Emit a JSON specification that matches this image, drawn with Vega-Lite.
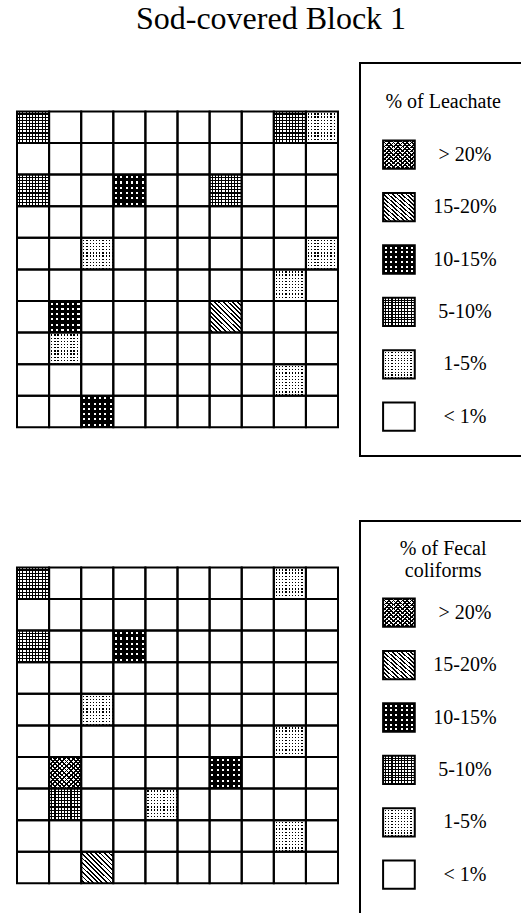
{
"$schema": "https://vega.github.io/schema/vega-lite/v6.json",
"background": "white",
"padding": {"left": 16, "top": 3, "right": 0, "bottom": 0},
"title": {"text": "Sod-covered Block 1", "font": "Liberation Serif", "fontSize": 32, "fontWeight": "normal", "color": "black", "anchor": "middle", "offset": 26},
"config": {
  "view": {"stroke": null},
  "title": {"font": "Liberation Serif", "fontWeight": "normal", "color": "black"}
},
"datasets": {
  "cells": [
    {"panel":"Leachate","r":0,"c":0,"cat":"5-10%"},{"panel":"Leachate","r":0,"c":1,"cat":"<1%"},{"panel":"Leachate","r":0,"c":2,"cat":"<1%"},{"panel":"Leachate","r":0,"c":3,"cat":"<1%"},{"panel":"Leachate","r":0,"c":4,"cat":"<1%"},{"panel":"Leachate","r":0,"c":5,"cat":"<1%"},{"panel":"Leachate","r":0,"c":6,"cat":"<1%"},{"panel":"Leachate","r":0,"c":7,"cat":"<1%"},{"panel":"Leachate","r":0,"c":8,"cat":"5-10%"},{"panel":"Leachate","r":0,"c":9,"cat":"1-5%"},
    {"panel":"Leachate","r":1,"c":0,"cat":"<1%"},{"panel":"Leachate","r":1,"c":1,"cat":"<1%"},{"panel":"Leachate","r":1,"c":2,"cat":"<1%"},{"panel":"Leachate","r":1,"c":3,"cat":"<1%"},{"panel":"Leachate","r":1,"c":4,"cat":"<1%"},{"panel":"Leachate","r":1,"c":5,"cat":"<1%"},{"panel":"Leachate","r":1,"c":6,"cat":"<1%"},{"panel":"Leachate","r":1,"c":7,"cat":"<1%"},{"panel":"Leachate","r":1,"c":8,"cat":"<1%"},{"panel":"Leachate","r":1,"c":9,"cat":"<1%"},
    {"panel":"Leachate","r":2,"c":0,"cat":"5-10%"},{"panel":"Leachate","r":2,"c":1,"cat":"<1%"},{"panel":"Leachate","r":2,"c":2,"cat":"<1%"},{"panel":"Leachate","r":2,"c":3,"cat":"10-15%"},{"panel":"Leachate","r":2,"c":4,"cat":"<1%"},{"panel":"Leachate","r":2,"c":5,"cat":"<1%"},{"panel":"Leachate","r":2,"c":6,"cat":"5-10%"},{"panel":"Leachate","r":2,"c":7,"cat":"<1%"},{"panel":"Leachate","r":2,"c":8,"cat":"<1%"},{"panel":"Leachate","r":2,"c":9,"cat":"<1%"},
    {"panel":"Leachate","r":3,"c":0,"cat":"<1%"},{"panel":"Leachate","r":3,"c":1,"cat":"<1%"},{"panel":"Leachate","r":3,"c":2,"cat":"<1%"},{"panel":"Leachate","r":3,"c":3,"cat":"<1%"},{"panel":"Leachate","r":3,"c":4,"cat":"<1%"},{"panel":"Leachate","r":3,"c":5,"cat":"<1%"},{"panel":"Leachate","r":3,"c":6,"cat":"<1%"},{"panel":"Leachate","r":3,"c":7,"cat":"<1%"},{"panel":"Leachate","r":3,"c":8,"cat":"<1%"},{"panel":"Leachate","r":3,"c":9,"cat":"<1%"},
    {"panel":"Leachate","r":4,"c":0,"cat":"<1%"},{"panel":"Leachate","r":4,"c":1,"cat":"<1%"},{"panel":"Leachate","r":4,"c":2,"cat":"1-5%"},{"panel":"Leachate","r":4,"c":3,"cat":"<1%"},{"panel":"Leachate","r":4,"c":4,"cat":"<1%"},{"panel":"Leachate","r":4,"c":5,"cat":"<1%"},{"panel":"Leachate","r":4,"c":6,"cat":"<1%"},{"panel":"Leachate","r":4,"c":7,"cat":"<1%"},{"panel":"Leachate","r":4,"c":8,"cat":"<1%"},{"panel":"Leachate","r":4,"c":9,"cat":"1-5%"},
    {"panel":"Leachate","r":5,"c":0,"cat":"<1%"},{"panel":"Leachate","r":5,"c":1,"cat":"<1%"},{"panel":"Leachate","r":5,"c":2,"cat":"<1%"},{"panel":"Leachate","r":5,"c":3,"cat":"<1%"},{"panel":"Leachate","r":5,"c":4,"cat":"<1%"},{"panel":"Leachate","r":5,"c":5,"cat":"<1%"},{"panel":"Leachate","r":5,"c":6,"cat":"<1%"},{"panel":"Leachate","r":5,"c":7,"cat":"<1%"},{"panel":"Leachate","r":5,"c":8,"cat":"1-5%"},{"panel":"Leachate","r":5,"c":9,"cat":"<1%"},
    {"panel":"Leachate","r":6,"c":0,"cat":"<1%"},{"panel":"Leachate","r":6,"c":1,"cat":"10-15%"},{"panel":"Leachate","r":6,"c":2,"cat":"<1%"},{"panel":"Leachate","r":6,"c":3,"cat":"<1%"},{"panel":"Leachate","r":6,"c":4,"cat":"<1%"},{"panel":"Leachate","r":6,"c":5,"cat":"<1%"},{"panel":"Leachate","r":6,"c":6,"cat":"15-20%"},{"panel":"Leachate","r":6,"c":7,"cat":"<1%"},{"panel":"Leachate","r":6,"c":8,"cat":"<1%"},{"panel":"Leachate","r":6,"c":9,"cat":"<1%"},
    {"panel":"Leachate","r":7,"c":0,"cat":"<1%"},{"panel":"Leachate","r":7,"c":1,"cat":"1-5%"},{"panel":"Leachate","r":7,"c":2,"cat":"<1%"},{"panel":"Leachate","r":7,"c":3,"cat":"<1%"},{"panel":"Leachate","r":7,"c":4,"cat":"<1%"},{"panel":"Leachate","r":7,"c":5,"cat":"<1%"},{"panel":"Leachate","r":7,"c":6,"cat":"<1%"},{"panel":"Leachate","r":7,"c":7,"cat":"<1%"},{"panel":"Leachate","r":7,"c":8,"cat":"<1%"},{"panel":"Leachate","r":7,"c":9,"cat":"<1%"},
    {"panel":"Leachate","r":8,"c":0,"cat":"<1%"},{"panel":"Leachate","r":8,"c":1,"cat":"<1%"},{"panel":"Leachate","r":8,"c":2,"cat":"<1%"},{"panel":"Leachate","r":8,"c":3,"cat":"<1%"},{"panel":"Leachate","r":8,"c":4,"cat":"<1%"},{"panel":"Leachate","r":8,"c":5,"cat":"<1%"},{"panel":"Leachate","r":8,"c":6,"cat":"<1%"},{"panel":"Leachate","r":8,"c":7,"cat":"<1%"},{"panel":"Leachate","r":8,"c":8,"cat":"1-5%"},{"panel":"Leachate","r":8,"c":9,"cat":"<1%"},
    {"panel":"Leachate","r":9,"c":0,"cat":"<1%"},{"panel":"Leachate","r":9,"c":1,"cat":"<1%"},{"panel":"Leachate","r":9,"c":2,"cat":"10-15%"},{"panel":"Leachate","r":9,"c":3,"cat":"<1%"},{"panel":"Leachate","r":9,"c":4,"cat":"<1%"},{"panel":"Leachate","r":9,"c":5,"cat":"<1%"},{"panel":"Leachate","r":9,"c":6,"cat":"<1%"},{"panel":"Leachate","r":9,"c":7,"cat":"<1%"},{"panel":"Leachate","r":9,"c":8,"cat":"<1%"},{"panel":"Leachate","r":9,"c":9,"cat":"<1%"},
    {"panel":"Fecal","r":0,"c":0,"cat":"5-10%"},{"panel":"Fecal","r":0,"c":1,"cat":"<1%"},{"panel":"Fecal","r":0,"c":2,"cat":"<1%"},{"panel":"Fecal","r":0,"c":3,"cat":"<1%"},{"panel":"Fecal","r":0,"c":4,"cat":"<1%"},{"panel":"Fecal","r":0,"c":5,"cat":"<1%"},{"panel":"Fecal","r":0,"c":6,"cat":"<1%"},{"panel":"Fecal","r":0,"c":7,"cat":"<1%"},{"panel":"Fecal","r":0,"c":8,"cat":"1-5%"},{"panel":"Fecal","r":0,"c":9,"cat":"<1%"},
    {"panel":"Fecal","r":1,"c":0,"cat":"<1%"},{"panel":"Fecal","r":1,"c":1,"cat":"<1%"},{"panel":"Fecal","r":1,"c":2,"cat":"<1%"},{"panel":"Fecal","r":1,"c":3,"cat":"<1%"},{"panel":"Fecal","r":1,"c":4,"cat":"<1%"},{"panel":"Fecal","r":1,"c":5,"cat":"<1%"},{"panel":"Fecal","r":1,"c":6,"cat":"<1%"},{"panel":"Fecal","r":1,"c":7,"cat":"<1%"},{"panel":"Fecal","r":1,"c":8,"cat":"<1%"},{"panel":"Fecal","r":1,"c":9,"cat":"<1%"},
    {"panel":"Fecal","r":2,"c":0,"cat":"5-10%"},{"panel":"Fecal","r":2,"c":1,"cat":"<1%"},{"panel":"Fecal","r":2,"c":2,"cat":"<1%"},{"panel":"Fecal","r":2,"c":3,"cat":"10-15%"},{"panel":"Fecal","r":2,"c":4,"cat":"<1%"},{"panel":"Fecal","r":2,"c":5,"cat":"<1%"},{"panel":"Fecal","r":2,"c":6,"cat":"<1%"},{"panel":"Fecal","r":2,"c":7,"cat":"<1%"},{"panel":"Fecal","r":2,"c":8,"cat":"<1%"},{"panel":"Fecal","r":2,"c":9,"cat":"<1%"},
    {"panel":"Fecal","r":3,"c":0,"cat":"<1%"},{"panel":"Fecal","r":3,"c":1,"cat":"<1%"},{"panel":"Fecal","r":3,"c":2,"cat":"<1%"},{"panel":"Fecal","r":3,"c":3,"cat":"<1%"},{"panel":"Fecal","r":3,"c":4,"cat":"<1%"},{"panel":"Fecal","r":3,"c":5,"cat":"<1%"},{"panel":"Fecal","r":3,"c":6,"cat":"<1%"},{"panel":"Fecal","r":3,"c":7,"cat":"<1%"},{"panel":"Fecal","r":3,"c":8,"cat":"<1%"},{"panel":"Fecal","r":3,"c":9,"cat":"<1%"},
    {"panel":"Fecal","r":4,"c":0,"cat":"<1%"},{"panel":"Fecal","r":4,"c":1,"cat":"<1%"},{"panel":"Fecal","r":4,"c":2,"cat":"1-5%"},{"panel":"Fecal","r":4,"c":3,"cat":"<1%"},{"panel":"Fecal","r":4,"c":4,"cat":"<1%"},{"panel":"Fecal","r":4,"c":5,"cat":"<1%"},{"panel":"Fecal","r":4,"c":6,"cat":"<1%"},{"panel":"Fecal","r":4,"c":7,"cat":"<1%"},{"panel":"Fecal","r":4,"c":8,"cat":"<1%"},{"panel":"Fecal","r":4,"c":9,"cat":"<1%"},
    {"panel":"Fecal","r":5,"c":0,"cat":"<1%"},{"panel":"Fecal","r":5,"c":1,"cat":"<1%"},{"panel":"Fecal","r":5,"c":2,"cat":"<1%"},{"panel":"Fecal","r":5,"c":3,"cat":"<1%"},{"panel":"Fecal","r":5,"c":4,"cat":"<1%"},{"panel":"Fecal","r":5,"c":5,"cat":"<1%"},{"panel":"Fecal","r":5,"c":6,"cat":"<1%"},{"panel":"Fecal","r":5,"c":7,"cat":"<1%"},{"panel":"Fecal","r":5,"c":8,"cat":"1-5%"},{"panel":"Fecal","r":5,"c":9,"cat":"<1%"},
    {"panel":"Fecal","r":6,"c":0,"cat":"<1%"},{"panel":"Fecal","r":6,"c":1,"cat":">20%"},{"panel":"Fecal","r":6,"c":2,"cat":"<1%"},{"panel":"Fecal","r":6,"c":3,"cat":"<1%"},{"panel":"Fecal","r":6,"c":4,"cat":"<1%"},{"panel":"Fecal","r":6,"c":5,"cat":"<1%"},{"panel":"Fecal","r":6,"c":6,"cat":"10-15%"},{"panel":"Fecal","r":6,"c":7,"cat":"<1%"},{"panel":"Fecal","r":6,"c":8,"cat":"<1%"},{"panel":"Fecal","r":6,"c":9,"cat":"<1%"},
    {"panel":"Fecal","r":7,"c":0,"cat":"<1%"},{"panel":"Fecal","r":7,"c":1,"cat":"5-10%"},{"panel":"Fecal","r":7,"c":2,"cat":"<1%"},{"panel":"Fecal","r":7,"c":3,"cat":"<1%"},{"panel":"Fecal","r":7,"c":4,"cat":"1-5%"},{"panel":"Fecal","r":7,"c":5,"cat":"<1%"},{"panel":"Fecal","r":7,"c":6,"cat":"<1%"},{"panel":"Fecal","r":7,"c":7,"cat":"<1%"},{"panel":"Fecal","r":7,"c":8,"cat":"<1%"},{"panel":"Fecal","r":7,"c":9,"cat":"<1%"},
    {"panel":"Fecal","r":8,"c":0,"cat":"<1%"},{"panel":"Fecal","r":8,"c":1,"cat":"<1%"},{"panel":"Fecal","r":8,"c":2,"cat":"<1%"},{"panel":"Fecal","r":8,"c":3,"cat":"<1%"},{"panel":"Fecal","r":8,"c":4,"cat":"<1%"},{"panel":"Fecal","r":8,"c":5,"cat":"<1%"},{"panel":"Fecal","r":8,"c":6,"cat":"<1%"},{"panel":"Fecal","r":8,"c":7,"cat":"<1%"},{"panel":"Fecal","r":8,"c":8,"cat":"1-5%"},{"panel":"Fecal","r":8,"c":9,"cat":"<1%"},
    {"panel":"Fecal","r":9,"c":0,"cat":"<1%"},{"panel":"Fecal","r":9,"c":1,"cat":"<1%"},{"panel":"Fecal","r":9,"c":2,"cat":"15-20%"},{"panel":"Fecal","r":9,"c":3,"cat":"<1%"},{"panel":"Fecal","r":9,"c":4,"cat":"<1%"},{"panel":"Fecal","r":9,"c":5,"cat":"<1%"},{"panel":"Fecal","r":9,"c":6,"cat":"<1%"},{"panel":"Fecal","r":9,"c":7,"cat":"<1%"},{"panel":"Fecal","r":9,"c":8,"cat":"<1%"},{"panel":"Fecal","r":9,"c":9,"cat":"<1%"}
  ],
  "legend": [
    {"panel": "Leachate", "cat": "title", "line": "b", "label": "% of Leachate"},
    {"panel": "Leachate", "cat": ">20%", "label": "> 20%"},
    {"panel": "Leachate", "cat": "15-20%", "label": "15-20%"},
    {"panel": "Leachate", "cat": "10-15%", "label": "10-15%"},
    {"panel": "Leachate", "cat": "5-10%", "label": "5-10%"},
    {"panel": "Leachate", "cat": "1-5%", "label": "1-5%"},
    {"panel": "Leachate", "cat": "<1%", "label": "< 1%"},
    {"panel": "Fecal", "cat": "title", "line": "a", "label": "% of Fecal"},
    {"panel": "Fecal", "cat": "title", "line": "c", "label": "coliforms"},
    {"panel": "Fecal", "cat": ">20%", "label": "> 20%"},
    {"panel": "Fecal", "cat": "15-20%", "label": "15-20%"},
    {"panel": "Fecal", "cat": "10-15%", "label": "10-15%"},
    {"panel": "Fecal", "cat": "5-10%", "label": "5-10%"},
    {"panel": "Fecal", "cat": "1-5%", "label": "1-5%"},
    {"panel": "Fecal", "cat": "<1%", "label": "< 1%"}
  ]
},
"spacing": 19,
"hconcat": [
  {
    "data": {"name": "cells"},
    "facet": {"row": {"field": "panel", "type": "nominal", "sort": ["Leachate", "Fecal"], "header": null}},
    "spacing": {"row": 63},
    "spec": {
      "width": 321, "height": 393,
      "encoding": {
        "x": {"field": "c", "type": "ordinal", "axis": null, "scale": {"type": "band", "domain": [0,1,2,3,4,5,6,7,8,9], "paddingInner": 0, "paddingOuter": 0}},
        "y": {"field": "r", "type": "ordinal", "axis": null, "scale": {"type": "band", "domain": ["t",0,1,2,3,4,5,6,7,8,9], "paddingInner": 0, "paddingOuter": 0.72, "align": 0.37}}
      },
      "layer": [
        {"mark": {"type": "rect", "fill": "#fff"}},
        {"transform": [{"filter": "datum.cat === '>20%'"}],
         "mark": {"type": "rect", "fill": {"gradient": "linear", "x1": 0, "y1": 0, "x2": 1, "y2": 1, "stops": [{"offset":0,"color":"#0000"},{"offset":0.0429,"color":"#0000"},{"offset":0.0429,"color":"#000"},{"offset":0.0714,"color":"#000"},{"offset":0.0714,"color":"#0000"},{"offset":0.1143,"color":"#0000"},{"offset":0.1143,"color":"#000"},{"offset":0.1429,"color":"#000"},{"offset":0.1429,"color":"#0000"},{"offset":0.1857,"color":"#0000"},{"offset":0.1857,"color":"#000"},{"offset":0.2143,"color":"#000"},{"offset":0.2143,"color":"#0000"},{"offset":0.2571,"color":"#0000"},{"offset":0.2571,"color":"#000"},{"offset":0.2857,"color":"#000"},{"offset":0.2857,"color":"#0000"},{"offset":0.3286,"color":"#0000"},{"offset":0.3286,"color":"#000"},{"offset":0.3571,"color":"#000"},{"offset":0.3571,"color":"#0000"},{"offset":0.4,"color":"#0000"},{"offset":0.4,"color":"#000"},{"offset":0.4286,"color":"#000"},{"offset":0.4286,"color":"#0000"},{"offset":0.4714,"color":"#0000"},{"offset":0.4714,"color":"#000"},{"offset":0.5,"color":"#000"},{"offset":0.5,"color":"#0000"},{"offset":0.5429,"color":"#0000"},{"offset":0.5429,"color":"#000"},{"offset":0.5714,"color":"#000"},{"offset":0.5714,"color":"#0000"},{"offset":0.6143,"color":"#0000"},{"offset":0.6143,"color":"#000"},{"offset":0.6429,"color":"#000"},{"offset":0.6429,"color":"#0000"},{"offset":0.6857,"color":"#0000"},{"offset":0.6857,"color":"#000"},{"offset":0.7143,"color":"#000"},{"offset":0.7143,"color":"#0000"},{"offset":0.7571,"color":"#0000"},{"offset":0.7571,"color":"#000"},{"offset":0.7857,"color":"#000"},{"offset":0.7857,"color":"#0000"},{"offset":0.8286,"color":"#0000"},{"offset":0.8286,"color":"#000"},{"offset":0.8571,"color":"#000"},{"offset":0.8571,"color":"#0000"},{"offset":0.9,"color":"#0000"},{"offset":0.9,"color":"#000"},{"offset":0.9286,"color":"#000"},{"offset":0.9286,"color":"#0000"},{"offset":0.9714,"color":"#0000"},{"offset":0.9714,"color":"#000"},{"offset":1,"color":"#000"}]}}},
        {"transform": [{"filter": "datum.cat === '>20%' || datum.cat === '15-20%'"}],
         "mark": {"type": "rect", "fill": {"gradient": "linear", "x1": 0, "y1": 1, "x2": 1, "y2": 0, "stops": [{"offset":0,"color":"#0000"},{"offset":0.0429,"color":"#0000"},{"offset":0.0429,"color":"#000"},{"offset":0.0714,"color":"#000"},{"offset":0.0714,"color":"#0000"},{"offset":0.1143,"color":"#0000"},{"offset":0.1143,"color":"#000"},{"offset":0.1429,"color":"#000"},{"offset":0.1429,"color":"#0000"},{"offset":0.1857,"color":"#0000"},{"offset":0.1857,"color":"#000"},{"offset":0.2143,"color":"#000"},{"offset":0.2143,"color":"#0000"},{"offset":0.2571,"color":"#0000"},{"offset":0.2571,"color":"#000"},{"offset":0.2857,"color":"#000"},{"offset":0.2857,"color":"#0000"},{"offset":0.3286,"color":"#0000"},{"offset":0.3286,"color":"#000"},{"offset":0.3571,"color":"#000"},{"offset":0.3571,"color":"#0000"},{"offset":0.4,"color":"#0000"},{"offset":0.4,"color":"#000"},{"offset":0.4286,"color":"#000"},{"offset":0.4286,"color":"#0000"},{"offset":0.4714,"color":"#0000"},{"offset":0.4714,"color":"#000"},{"offset":0.5,"color":"#000"},{"offset":0.5,"color":"#0000"},{"offset":0.5429,"color":"#0000"},{"offset":0.5429,"color":"#000"},{"offset":0.5714,"color":"#000"},{"offset":0.5714,"color":"#0000"},{"offset":0.6143,"color":"#0000"},{"offset":0.6143,"color":"#000"},{"offset":0.6429,"color":"#000"},{"offset":0.6429,"color":"#0000"},{"offset":0.6857,"color":"#0000"},{"offset":0.6857,"color":"#000"},{"offset":0.7143,"color":"#000"},{"offset":0.7143,"color":"#0000"},{"offset":0.7571,"color":"#0000"},{"offset":0.7571,"color":"#000"},{"offset":0.7857,"color":"#000"},{"offset":0.7857,"color":"#0000"},{"offset":0.8286,"color":"#0000"},{"offset":0.8286,"color":"#000"},{"offset":0.8571,"color":"#000"},{"offset":0.8571,"color":"#0000"},{"offset":0.9,"color":"#0000"},{"offset":0.9,"color":"#000"},{"offset":0.9286,"color":"#000"},{"offset":0.9286,"color":"#0000"},{"offset":0.9714,"color":"#0000"},{"offset":0.9714,"color":"#000"},{"offset":1,"color":"#000"}]}}},
        {"transform": [{"filter": "datum.cat === '10-15%'"}],
         "mark": {"type": "rect", "fill": {"gradient": "linear", "x1": 0, "y1": 0, "x2": 1, "y2": 0, "stops": [{"offset":0,"color":"#000"},{"offset":0.05,"color":"#000"},{"offset":0.05,"color":"#fff"},{"offset":0.1167,"color":"#fff"},{"offset":0.1167,"color":"#000"},{"offset":0.2167,"color":"#000"},{"offset":0.2167,"color":"#fff"},{"offset":0.2833,"color":"#fff"},{"offset":0.2833,"color":"#000"},{"offset":0.3833,"color":"#000"},{"offset":0.3833,"color":"#fff"},{"offset":0.45,"color":"#fff"},{"offset":0.45,"color":"#000"},{"offset":0.55,"color":"#000"},{"offset":0.55,"color":"#fff"},{"offset":0.6167,"color":"#fff"},{"offset":0.6167,"color":"#000"},{"offset":0.7167,"color":"#000"},{"offset":0.7167,"color":"#fff"},{"offset":0.7833,"color":"#fff"},{"offset":0.7833,"color":"#000"},{"offset":0.8833,"color":"#000"},{"offset":0.8833,"color":"#fff"},{"offset":0.95,"color":"#fff"},{"offset":0.95,"color":"#000"},{"offset":1,"color":"#000"}]}}},
        {"transform": [{"filter": "datum.cat === '10-15%'"}],
         "mark": {"type": "rect", "fill": {"gradient": "linear", "x1": 0, "y1": 0, "x2": 0, "y2": 1, "stops": [{"offset":0,"color":"#000"},{"offset":0.05,"color":"#000"},{"offset":0.05,"color":"#0000"},{"offset":0.1167,"color":"#0000"},{"offset":0.1167,"color":"#000"},{"offset":0.2167,"color":"#000"},{"offset":0.2167,"color":"#0000"},{"offset":0.2833,"color":"#0000"},{"offset":0.2833,"color":"#000"},{"offset":0.3833,"color":"#000"},{"offset":0.3833,"color":"#0000"},{"offset":0.45,"color":"#0000"},{"offset":0.45,"color":"#000"},{"offset":0.55,"color":"#000"},{"offset":0.55,"color":"#0000"},{"offset":0.6167,"color":"#0000"},{"offset":0.6167,"color":"#000"},{"offset":0.7167,"color":"#000"},{"offset":0.7167,"color":"#0000"},{"offset":0.7833,"color":"#0000"},{"offset":0.7833,"color":"#000"},{"offset":0.8833,"color":"#000"},{"offset":0.8833,"color":"#0000"},{"offset":0.95,"color":"#0000"},{"offset":0.95,"color":"#000"},{"offset":1,"color":"#000"}]}}},
        {"transform": [{"filter": "datum.cat === '5-10%'"}],
         "mark": {"type": "rect", "fill": {"gradient": "linear", "x1": 0, "y1": 0, "x2": 1, "y2": 0, "stops": [{"offset":0,"color":"#fff"},{"offset":0.065,"color":"#fff"},{"offset":0.065,"color":"#000"},{"offset":0.1,"color":"#000"},{"offset":0.1,"color":"#fff"},{"offset":0.165,"color":"#fff"},{"offset":0.165,"color":"#000"},{"offset":0.2,"color":"#000"},{"offset":0.2,"color":"#fff"},{"offset":0.265,"color":"#fff"},{"offset":0.265,"color":"#000"},{"offset":0.3,"color":"#000"},{"offset":0.3,"color":"#fff"},{"offset":0.365,"color":"#fff"},{"offset":0.365,"color":"#000"},{"offset":0.4,"color":"#000"},{"offset":0.4,"color":"#fff"},{"offset":0.465,"color":"#fff"},{"offset":0.465,"color":"#000"},{"offset":0.5,"color":"#000"},{"offset":0.5,"color":"#fff"},{"offset":0.565,"color":"#fff"},{"offset":0.565,"color":"#000"},{"offset":0.6,"color":"#000"},{"offset":0.6,"color":"#fff"},{"offset":0.665,"color":"#fff"},{"offset":0.665,"color":"#000"},{"offset":0.7,"color":"#000"},{"offset":0.7,"color":"#fff"},{"offset":0.765,"color":"#fff"},{"offset":0.765,"color":"#000"},{"offset":0.8,"color":"#000"},{"offset":0.8,"color":"#fff"},{"offset":0.865,"color":"#fff"},{"offset":0.865,"color":"#000"},{"offset":0.9,"color":"#000"},{"offset":0.9,"color":"#fff"},{"offset":0.965,"color":"#fff"},{"offset":0.965,"color":"#000"},{"offset":1,"color":"#000"}]}}},
        {"transform": [{"filter": "datum.cat === '5-10%'"}],
         "mark": {"type": "rect", "fill": {"gradient": "linear", "x1": 0, "y1": 0, "x2": 0, "y2": 1, "stops": [{"offset":0,"color":"#0000"},{"offset":0.065,"color":"#0000"},{"offset":0.065,"color":"#000"},{"offset":0.1,"color":"#000"},{"offset":0.1,"color":"#0000"},{"offset":0.165,"color":"#0000"},{"offset":0.165,"color":"#000"},{"offset":0.2,"color":"#000"},{"offset":0.2,"color":"#0000"},{"offset":0.265,"color":"#0000"},{"offset":0.265,"color":"#000"},{"offset":0.3,"color":"#000"},{"offset":0.3,"color":"#0000"},{"offset":0.365,"color":"#0000"},{"offset":0.365,"color":"#000"},{"offset":0.4,"color":"#000"},{"offset":0.4,"color":"#0000"},{"offset":0.465,"color":"#0000"},{"offset":0.465,"color":"#000"},{"offset":0.5,"color":"#000"},{"offset":0.5,"color":"#0000"},{"offset":0.565,"color":"#0000"},{"offset":0.565,"color":"#000"},{"offset":0.6,"color":"#000"},{"offset":0.6,"color":"#0000"},{"offset":0.665,"color":"#0000"},{"offset":0.665,"color":"#000"},{"offset":0.7,"color":"#000"},{"offset":0.7,"color":"#0000"},{"offset":0.765,"color":"#0000"},{"offset":0.765,"color":"#000"},{"offset":0.8,"color":"#000"},{"offset":0.8,"color":"#0000"},{"offset":0.865,"color":"#0000"},{"offset":0.865,"color":"#000"},{"offset":0.9,"color":"#000"},{"offset":0.9,"color":"#0000"},{"offset":0.965,"color":"#0000"},{"offset":0.965,"color":"#000"},{"offset":1,"color":"#000"}]}}},
        {"transform": [{"filter": "datum.cat === '1-5%'"}],
         "mark": {"type": "rect", "fill": {"gradient": "linear", "x1": 0, "y1": 0, "x2": 1, "y2": 0, "stops": [{"offset":0,"color":"#fff"},{"offset":0.06,"color":"#fff"},{"offset":0.06,"color":"#000"},{"offset":0.1,"color":"#000"},{"offset":0.1,"color":"#fff"},{"offset":0.16,"color":"#fff"},{"offset":0.16,"color":"#000"},{"offset":0.2,"color":"#000"},{"offset":0.2,"color":"#fff"},{"offset":0.26,"color":"#fff"},{"offset":0.26,"color":"#000"},{"offset":0.3,"color":"#000"},{"offset":0.3,"color":"#fff"},{"offset":0.36,"color":"#fff"},{"offset":0.36,"color":"#000"},{"offset":0.4,"color":"#000"},{"offset":0.4,"color":"#fff"},{"offset":0.46,"color":"#fff"},{"offset":0.46,"color":"#000"},{"offset":0.5,"color":"#000"},{"offset":0.5,"color":"#fff"},{"offset":0.56,"color":"#fff"},{"offset":0.56,"color":"#000"},{"offset":0.6,"color":"#000"},{"offset":0.6,"color":"#fff"},{"offset":0.66,"color":"#fff"},{"offset":0.66,"color":"#000"},{"offset":0.7,"color":"#000"},{"offset":0.7,"color":"#fff"},{"offset":0.76,"color":"#fff"},{"offset":0.76,"color":"#000"},{"offset":0.8,"color":"#000"},{"offset":0.8,"color":"#fff"},{"offset":0.86,"color":"#fff"},{"offset":0.86,"color":"#000"},{"offset":0.9,"color":"#000"},{"offset":0.9,"color":"#fff"},{"offset":0.96,"color":"#fff"},{"offset":0.96,"color":"#000"},{"offset":1,"color":"#000"}]}}},
        {"transform": [{"filter": "datum.cat === '1-5%'"}],
         "mark": {"type": "rect", "fill": {"gradient": "linear", "x1": 0, "y1": 0, "x2": 0, "y2": 1, "stops": [{"offset":0,"color":"#fff"},{"offset":0.06,"color":"#fff"},{"offset":0.06,"color":"#0000"},{"offset":0.1,"color":"#0000"},{"offset":0.1,"color":"#fff"},{"offset":0.16,"color":"#fff"},{"offset":0.16,"color":"#0000"},{"offset":0.2,"color":"#0000"},{"offset":0.2,"color":"#fff"},{"offset":0.26,"color":"#fff"},{"offset":0.26,"color":"#0000"},{"offset":0.3,"color":"#0000"},{"offset":0.3,"color":"#fff"},{"offset":0.36,"color":"#fff"},{"offset":0.36,"color":"#0000"},{"offset":0.4,"color":"#0000"},{"offset":0.4,"color":"#fff"},{"offset":0.46,"color":"#fff"},{"offset":0.46,"color":"#0000"},{"offset":0.5,"color":"#0000"},{"offset":0.5,"color":"#fff"},{"offset":0.56,"color":"#fff"},{"offset":0.56,"color":"#0000"},{"offset":0.6,"color":"#0000"},{"offset":0.6,"color":"#fff"},{"offset":0.66,"color":"#fff"},{"offset":0.66,"color":"#0000"},{"offset":0.7,"color":"#0000"},{"offset":0.7,"color":"#fff"},{"offset":0.76,"color":"#fff"},{"offset":0.76,"color":"#0000"},{"offset":0.8,"color":"#0000"},{"offset":0.8,"color":"#fff"},{"offset":0.86,"color":"#fff"},{"offset":0.86,"color":"#0000"},{"offset":0.9,"color":"#0000"},{"offset":0.9,"color":"#fff"},{"offset":0.96,"color":"#fff"},{"offset":0.96,"color":"#0000"},{"offset":1,"color":"#0000"}]}}},
        {"mark": {"type": "rect", "filled": false, "stroke": "#000", "strokeWidth": 2}}
      ]
    }
  },
  {
    "data": {"name": "legend"},
    "facet": {"row": {"field": "panel", "type": "nominal", "sort": ["Leachate", "Fecal"], "header": null}},
    "spacing": {"row": 63},
    "spec": {
      "width": 165, "height": 393,
      "view": {"stroke": "#000", "strokeWidth": 2},
      "encoding": {
        "y": {"field": "cat", "type": "ordinal", "axis": null, "scale": {"type": "band", "domain": ["title", ">20%", "15-20%", "10-15%", "5-10%", "1-5%", "<1%"], "paddingInner": 0, "paddingOuter": 0.25, "align": 0.5}},
        "x": {"datum": "swatch", "type": "ordinal", "axis": null, "scale": {"type": "band", "domain": ["swatch", "label"], "paddingInner": 0, "paddingOuter": 0.25, "align": 0.18}}
      },
      "layer": [
        {"transform": [{"filter": "datum.cat !== 'title'"}],
         "mark": {"type": "rect", "fill": "#fff", "width": {"band": 0.48}, "height": {"band": 0.54}}},
        {"transform": [{"filter": "datum.cat === '>20%'"}],
         "mark": {"type": "rect", "width": {"band": 0.48}, "height": {"band": 0.54}, "fill": {"gradient": "linear", "x1": 0, "y1": 0, "x2": 1, "y2": 1, "stops": [{"offset":0,"color":"#0000"},{"offset":0.0429,"color":"#0000"},{"offset":0.0429,"color":"#000"},{"offset":0.0714,"color":"#000"},{"offset":0.0714,"color":"#0000"},{"offset":0.1143,"color":"#0000"},{"offset":0.1143,"color":"#000"},{"offset":0.1429,"color":"#000"},{"offset":0.1429,"color":"#0000"},{"offset":0.1857,"color":"#0000"},{"offset":0.1857,"color":"#000"},{"offset":0.2143,"color":"#000"},{"offset":0.2143,"color":"#0000"},{"offset":0.2571,"color":"#0000"},{"offset":0.2571,"color":"#000"},{"offset":0.2857,"color":"#000"},{"offset":0.2857,"color":"#0000"},{"offset":0.3286,"color":"#0000"},{"offset":0.3286,"color":"#000"},{"offset":0.3571,"color":"#000"},{"offset":0.3571,"color":"#0000"},{"offset":0.4,"color":"#0000"},{"offset":0.4,"color":"#000"},{"offset":0.4286,"color":"#000"},{"offset":0.4286,"color":"#0000"},{"offset":0.4714,"color":"#0000"},{"offset":0.4714,"color":"#000"},{"offset":0.5,"color":"#000"},{"offset":0.5,"color":"#0000"},{"offset":0.5429,"color":"#0000"},{"offset":0.5429,"color":"#000"},{"offset":0.5714,"color":"#000"},{"offset":0.5714,"color":"#0000"},{"offset":0.6143,"color":"#0000"},{"offset":0.6143,"color":"#000"},{"offset":0.6429,"color":"#000"},{"offset":0.6429,"color":"#0000"},{"offset":0.6857,"color":"#0000"},{"offset":0.6857,"color":"#000"},{"offset":0.7143,"color":"#000"},{"offset":0.7143,"color":"#0000"},{"offset":0.7571,"color":"#0000"},{"offset":0.7571,"color":"#000"},{"offset":0.7857,"color":"#000"},{"offset":0.7857,"color":"#0000"},{"offset":0.8286,"color":"#0000"},{"offset":0.8286,"color":"#000"},{"offset":0.8571,"color":"#000"},{"offset":0.8571,"color":"#0000"},{"offset":0.9,"color":"#0000"},{"offset":0.9,"color":"#000"},{"offset":0.9286,"color":"#000"},{"offset":0.9286,"color":"#0000"},{"offset":0.9714,"color":"#0000"},{"offset":0.9714,"color":"#000"},{"offset":1,"color":"#000"}]}}},
        {"transform": [{"filter": "datum.cat === '>20%' || datum.cat === '15-20%'"}],
         "mark": {"type": "rect", "width": {"band": 0.48}, "height": {"band": 0.54}, "fill": {"gradient": "linear", "x1": 0, "y1": 1, "x2": 1, "y2": 0, "stops": [{"offset":0,"color":"#0000"},{"offset":0.0429,"color":"#0000"},{"offset":0.0429,"color":"#000"},{"offset":0.0714,"color":"#000"},{"offset":0.0714,"color":"#0000"},{"offset":0.1143,"color":"#0000"},{"offset":0.1143,"color":"#000"},{"offset":0.1429,"color":"#000"},{"offset":0.1429,"color":"#0000"},{"offset":0.1857,"color":"#0000"},{"offset":0.1857,"color":"#000"},{"offset":0.2143,"color":"#000"},{"offset":0.2143,"color":"#0000"},{"offset":0.2571,"color":"#0000"},{"offset":0.2571,"color":"#000"},{"offset":0.2857,"color":"#000"},{"offset":0.2857,"color":"#0000"},{"offset":0.3286,"color":"#0000"},{"offset":0.3286,"color":"#000"},{"offset":0.3571,"color":"#000"},{"offset":0.3571,"color":"#0000"},{"offset":0.4,"color":"#0000"},{"offset":0.4,"color":"#000"},{"offset":0.4286,"color":"#000"},{"offset":0.4286,"color":"#0000"},{"offset":0.4714,"color":"#0000"},{"offset":0.4714,"color":"#000"},{"offset":0.5,"color":"#000"},{"offset":0.5,"color":"#0000"},{"offset":0.5429,"color":"#0000"},{"offset":0.5429,"color":"#000"},{"offset":0.5714,"color":"#000"},{"offset":0.5714,"color":"#0000"},{"offset":0.6143,"color":"#0000"},{"offset":0.6143,"color":"#000"},{"offset":0.6429,"color":"#000"},{"offset":0.6429,"color":"#0000"},{"offset":0.6857,"color":"#0000"},{"offset":0.6857,"color":"#000"},{"offset":0.7143,"color":"#000"},{"offset":0.7143,"color":"#0000"},{"offset":0.7571,"color":"#0000"},{"offset":0.7571,"color":"#000"},{"offset":0.7857,"color":"#000"},{"offset":0.7857,"color":"#0000"},{"offset":0.8286,"color":"#0000"},{"offset":0.8286,"color":"#000"},{"offset":0.8571,"color":"#000"},{"offset":0.8571,"color":"#0000"},{"offset":0.9,"color":"#0000"},{"offset":0.9,"color":"#000"},{"offset":0.9286,"color":"#000"},{"offset":0.9286,"color":"#0000"},{"offset":0.9714,"color":"#0000"},{"offset":0.9714,"color":"#000"},{"offset":1,"color":"#000"}]}}},
        {"transform": [{"filter": "datum.cat === '10-15%'"}],
         "mark": {"type": "rect", "width": {"band": 0.48}, "height": {"band": 0.54}, "fill": {"gradient": "linear", "x1": 0, "y1": 0, "x2": 1, "y2": 0, "stops": [{"offset":0,"color":"#000"},{"offset":0.05,"color":"#000"},{"offset":0.05,"color":"#fff"},{"offset":0.1167,"color":"#fff"},{"offset":0.1167,"color":"#000"},{"offset":0.2167,"color":"#000"},{"offset":0.2167,"color":"#fff"},{"offset":0.2833,"color":"#fff"},{"offset":0.2833,"color":"#000"},{"offset":0.3833,"color":"#000"},{"offset":0.3833,"color":"#fff"},{"offset":0.45,"color":"#fff"},{"offset":0.45,"color":"#000"},{"offset":0.55,"color":"#000"},{"offset":0.55,"color":"#fff"},{"offset":0.6167,"color":"#fff"},{"offset":0.6167,"color":"#000"},{"offset":0.7167,"color":"#000"},{"offset":0.7167,"color":"#fff"},{"offset":0.7833,"color":"#fff"},{"offset":0.7833,"color":"#000"},{"offset":0.8833,"color":"#000"},{"offset":0.8833,"color":"#fff"},{"offset":0.95,"color":"#fff"},{"offset":0.95,"color":"#000"},{"offset":1,"color":"#000"}]}}},
        {"transform": [{"filter": "datum.cat === '10-15%'"}],
         "mark": {"type": "rect", "width": {"band": 0.48}, "height": {"band": 0.54}, "fill": {"gradient": "linear", "x1": 0, "y1": 0, "x2": 0, "y2": 1, "stops": [{"offset":0,"color":"#000"},{"offset":0.05,"color":"#000"},{"offset":0.05,"color":"#0000"},{"offset":0.1167,"color":"#0000"},{"offset":0.1167,"color":"#000"},{"offset":0.2167,"color":"#000"},{"offset":0.2167,"color":"#0000"},{"offset":0.2833,"color":"#0000"},{"offset":0.2833,"color":"#000"},{"offset":0.3833,"color":"#000"},{"offset":0.3833,"color":"#0000"},{"offset":0.45,"color":"#0000"},{"offset":0.45,"color":"#000"},{"offset":0.55,"color":"#000"},{"offset":0.55,"color":"#0000"},{"offset":0.6167,"color":"#0000"},{"offset":0.6167,"color":"#000"},{"offset":0.7167,"color":"#000"},{"offset":0.7167,"color":"#0000"},{"offset":0.7833,"color":"#0000"},{"offset":0.7833,"color":"#000"},{"offset":0.8833,"color":"#000"},{"offset":0.8833,"color":"#0000"},{"offset":0.95,"color":"#0000"},{"offset":0.95,"color":"#000"},{"offset":1,"color":"#000"}]}}},
        {"transform": [{"filter": "datum.cat === '5-10%'"}],
         "mark": {"type": "rect", "width": {"band": 0.48}, "height": {"band": 0.54}, "fill": {"gradient": "linear", "x1": 0, "y1": 0, "x2": 1, "y2": 0, "stops": [{"offset":0,"color":"#fff"},{"offset":0.065,"color":"#fff"},{"offset":0.065,"color":"#000"},{"offset":0.1,"color":"#000"},{"offset":0.1,"color":"#fff"},{"offset":0.165,"color":"#fff"},{"offset":0.165,"color":"#000"},{"offset":0.2,"color":"#000"},{"offset":0.2,"color":"#fff"},{"offset":0.265,"color":"#fff"},{"offset":0.265,"color":"#000"},{"offset":0.3,"color":"#000"},{"offset":0.3,"color":"#fff"},{"offset":0.365,"color":"#fff"},{"offset":0.365,"color":"#000"},{"offset":0.4,"color":"#000"},{"offset":0.4,"color":"#fff"},{"offset":0.465,"color":"#fff"},{"offset":0.465,"color":"#000"},{"offset":0.5,"color":"#000"},{"offset":0.5,"color":"#fff"},{"offset":0.565,"color":"#fff"},{"offset":0.565,"color":"#000"},{"offset":0.6,"color":"#000"},{"offset":0.6,"color":"#fff"},{"offset":0.665,"color":"#fff"},{"offset":0.665,"color":"#000"},{"offset":0.7,"color":"#000"},{"offset":0.7,"color":"#fff"},{"offset":0.765,"color":"#fff"},{"offset":0.765,"color":"#000"},{"offset":0.8,"color":"#000"},{"offset":0.8,"color":"#fff"},{"offset":0.865,"color":"#fff"},{"offset":0.865,"color":"#000"},{"offset":0.9,"color":"#000"},{"offset":0.9,"color":"#fff"},{"offset":0.965,"color":"#fff"},{"offset":0.965,"color":"#000"},{"offset":1,"color":"#000"}]}}},
        {"transform": [{"filter": "datum.cat === '5-10%'"}],
         "mark": {"type": "rect", "width": {"band": 0.48}, "height": {"band": 0.54}, "fill": {"gradient": "linear", "x1": 0, "y1": 0, "x2": 0, "y2": 1, "stops": [{"offset":0,"color":"#0000"},{"offset":0.065,"color":"#0000"},{"offset":0.065,"color":"#000"},{"offset":0.1,"color":"#000"},{"offset":0.1,"color":"#0000"},{"offset":0.165,"color":"#0000"},{"offset":0.165,"color":"#000"},{"offset":0.2,"color":"#000"},{"offset":0.2,"color":"#0000"},{"offset":0.265,"color":"#0000"},{"offset":0.265,"color":"#000"},{"offset":0.3,"color":"#000"},{"offset":0.3,"color":"#0000"},{"offset":0.365,"color":"#0000"},{"offset":0.365,"color":"#000"},{"offset":0.4,"color":"#000"},{"offset":0.4,"color":"#0000"},{"offset":0.465,"color":"#0000"},{"offset":0.465,"color":"#000"},{"offset":0.5,"color":"#000"},{"offset":0.5,"color":"#0000"},{"offset":0.565,"color":"#0000"},{"offset":0.565,"color":"#000"},{"offset":0.6,"color":"#000"},{"offset":0.6,"color":"#0000"},{"offset":0.665,"color":"#0000"},{"offset":0.665,"color":"#000"},{"offset":0.7,"color":"#000"},{"offset":0.7,"color":"#0000"},{"offset":0.765,"color":"#0000"},{"offset":0.765,"color":"#000"},{"offset":0.8,"color":"#000"},{"offset":0.8,"color":"#0000"},{"offset":0.865,"color":"#0000"},{"offset":0.865,"color":"#000"},{"offset":0.9,"color":"#000"},{"offset":0.9,"color":"#0000"},{"offset":0.965,"color":"#0000"},{"offset":0.965,"color":"#000"},{"offset":1,"color":"#000"}]}}},
        {"transform": [{"filter": "datum.cat === '1-5%'"}],
         "mark": {"type": "rect", "width": {"band": 0.48}, "height": {"band": 0.54}, "fill": {"gradient": "linear", "x1": 0, "y1": 0, "x2": 1, "y2": 0, "stops": [{"offset":0,"color":"#fff"},{"offset":0.06,"color":"#fff"},{"offset":0.06,"color":"#000"},{"offset":0.1,"color":"#000"},{"offset":0.1,"color":"#fff"},{"offset":0.16,"color":"#fff"},{"offset":0.16,"color":"#000"},{"offset":0.2,"color":"#000"},{"offset":0.2,"color":"#fff"},{"offset":0.26,"color":"#fff"},{"offset":0.26,"color":"#000"},{"offset":0.3,"color":"#000"},{"offset":0.3,"color":"#fff"},{"offset":0.36,"color":"#fff"},{"offset":0.36,"color":"#000"},{"offset":0.4,"color":"#000"},{"offset":0.4,"color":"#fff"},{"offset":0.46,"color":"#fff"},{"offset":0.46,"color":"#000"},{"offset":0.5,"color":"#000"},{"offset":0.5,"color":"#fff"},{"offset":0.56,"color":"#fff"},{"offset":0.56,"color":"#000"},{"offset":0.6,"color":"#000"},{"offset":0.6,"color":"#fff"},{"offset":0.66,"color":"#fff"},{"offset":0.66,"color":"#000"},{"offset":0.7,"color":"#000"},{"offset":0.7,"color":"#fff"},{"offset":0.76,"color":"#fff"},{"offset":0.76,"color":"#000"},{"offset":0.8,"color":"#000"},{"offset":0.8,"color":"#fff"},{"offset":0.86,"color":"#fff"},{"offset":0.86,"color":"#000"},{"offset":0.9,"color":"#000"},{"offset":0.9,"color":"#fff"},{"offset":0.96,"color":"#fff"},{"offset":0.96,"color":"#000"},{"offset":1,"color":"#000"}]}}},
        {"transform": [{"filter": "datum.cat === '1-5%'"}],
         "mark": {"type": "rect", "width": {"band": 0.48}, "height": {"band": 0.54}, "fill": {"gradient": "linear", "x1": 0, "y1": 0, "x2": 0, "y2": 1, "stops": [{"offset":0,"color":"#fff"},{"offset":0.06,"color":"#fff"},{"offset":0.06,"color":"#0000"},{"offset":0.1,"color":"#0000"},{"offset":0.1,"color":"#fff"},{"offset":0.16,"color":"#fff"},{"offset":0.16,"color":"#0000"},{"offset":0.2,"color":"#0000"},{"offset":0.2,"color":"#fff"},{"offset":0.26,"color":"#fff"},{"offset":0.26,"color":"#0000"},{"offset":0.3,"color":"#0000"},{"offset":0.3,"color":"#fff"},{"offset":0.36,"color":"#fff"},{"offset":0.36,"color":"#0000"},{"offset":0.4,"color":"#0000"},{"offset":0.4,"color":"#fff"},{"offset":0.46,"color":"#fff"},{"offset":0.46,"color":"#0000"},{"offset":0.5,"color":"#0000"},{"offset":0.5,"color":"#fff"},{"offset":0.56,"color":"#fff"},{"offset":0.56,"color":"#0000"},{"offset":0.6,"color":"#0000"},{"offset":0.6,"color":"#fff"},{"offset":0.66,"color":"#fff"},{"offset":0.66,"color":"#0000"},{"offset":0.7,"color":"#0000"},{"offset":0.7,"color":"#fff"},{"offset":0.76,"color":"#fff"},{"offset":0.76,"color":"#0000"},{"offset":0.8,"color":"#0000"},{"offset":0.8,"color":"#fff"},{"offset":0.86,"color":"#fff"},{"offset":0.86,"color":"#0000"},{"offset":0.9,"color":"#0000"},{"offset":0.9,"color":"#fff"},{"offset":0.96,"color":"#fff"},{"offset":0.96,"color":"#0000"},{"offset":1,"color":"#0000"}]}}},
        {"transform": [{"filter": "datum.cat !== 'title'"}],
         "mark": {"type": "rect", "filled": false, "stroke": "#000", "strokeWidth": 2, "width": {"band": 0.48}, "height": {"band": 0.54}}},
        {"transform": [{"filter": "datum.cat !== 'title'"}],
         "mark": {"type": "text", "font": "Liberation Serif", "fontSize": 20, "color": "#000", "align": "center", "baseline": "middle"},
         "encoding": {"x": {"datum": "label", "type": "ordinal"}, "text": {"field": "label"}}},
        {"transform": [{"filter": "datum.cat === 'title'"}],
         "mark": {"type": "text", "font": "Liberation Serif", "fontSize": 20, "color": "#000", "align": "center", "baseline": "middle"},
         "encoding": {
           "x": {"datum": "label", "type": "ordinal", "bandPosition": 0.17},
           "yOffset": {"field": "line", "type": "ordinal", "scale": {"type": "band", "domain": ["a", "b", "c"], "paddingInner": 0, "paddingOuter": 0.88}},
           "text": {"field": "label"}}}
      ]
    }
  }
]
}
